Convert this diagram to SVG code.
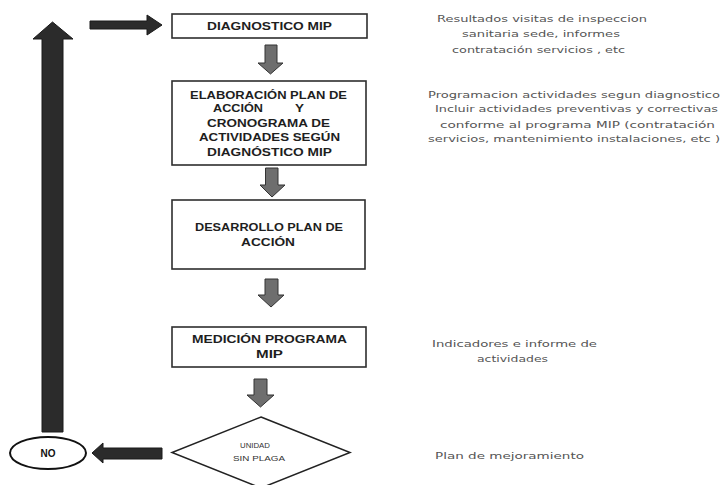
<svg xmlns="http://www.w3.org/2000/svg" width="723" height="485" viewBox="0 0 723 485">
<style>
.box{fill:#fff;stroke:#2e2e2e;stroke-width:1.6}
.bt{font-family:"Liberation Sans",Arial,sans-serif;font-weight:bold;font-size:10px;fill:#1e1e1e;text-anchor:middle}
.st{text-anchor:start}
.nt{font-family:"DejaVu Sans","Liberation Sans",sans-serif;font-size:9.5px;fill:#555;text-anchor:middle}
.dt{font-family:"Liberation Sans",Arial,sans-serif;font-size:7px;fill:#333;text-anchor:middle}
.ga{fill:#6e6e6e;stroke:#333;stroke-width:1}
.da{fill:#2b2b2b;stroke:#1a1a1a;stroke-width:1}
</style>
<rect width="723" height="485" fill="#fff"/>
<g id="connectors">
<path class="da" d="M42,432 V39 H33 L52.5,22 L73,39 H63 V432 Z"/>
<path class="da" d="M90,21 H147 V15 L162,25 L147,35 V29 H90 Z"/>
<path class="ga" d="M265,45 H277 V63 H283 L270.5,74 L258,63 H265 Z"/>
<path class="ga" d="M265.5,168 H278 V185 H285 L272,197 L260,185 H265.5 Z"/>
<path class="ga" d="M265,279 H278 V295 H284 L271,307 L258,295 H265 Z"/>
<path class="ga" d="M254,379 H267 V395 H274 L260.5,407 L247,395 H254 Z"/>
<path class="da" d="M162,448 H103 V443 L92,453 L103,463 V459 H162 Z"/>
</g>
<g id="n1">
<rect class="box" x="172" y="14" width="195" height="24"/>
<text class="bt" x="269.5" y="29.5" textLength="125" lengthAdjust="spacingAndGlyphs">DIAGNOSTICO MIP</text>
</g>
<g id="n2">
<rect class="box" x="172" y="81" width="194" height="84"/>
<text class="bt" x="268.5" y="98.5" textLength="157" lengthAdjust="spacingAndGlyphs">ELABORACIÓN PLAN DE</text>
<text class="bt st" x="213" y="112" textLength="50" lengthAdjust="spacingAndGlyphs">ACCIÓN</text>
<text class="bt st" x="295" y="112" textLength="9" lengthAdjust="spacingAndGlyphs">Y</text>
<text class="bt" x="268.5" y="126.5" textLength="123" lengthAdjust="spacingAndGlyphs">CRONOGRAMA DE</text>
<text class="bt" x="269.5" y="140.5" textLength="141" lengthAdjust="spacingAndGlyphs">ACTIVIDADES SEGÚN</text>
<text class="bt" x="269.5" y="155.5" textLength="125" lengthAdjust="spacingAndGlyphs">DIAGNÓSTICO MIP</text>
</g>
<g id="n3">
<rect class="box" x="172" y="200" width="193" height="69"/>
<text class="bt" x="269" y="230.5" textLength="148" lengthAdjust="spacingAndGlyphs">DESARROLLO PLAN DE</text>
<text class="bt" x="268" y="245.5" textLength="54" lengthAdjust="spacingAndGlyphs">ACCIÓN</text>
</g>
<g id="n4">
<rect class="box" x="172" y="327" width="194" height="40"/>
<text class="bt" x="269.5" y="342.5" textLength="155" lengthAdjust="spacingAndGlyphs">MEDICIÓN PROGRAMA</text>
<text class="bt" x="269.5" y="357.5" textLength="27" lengthAdjust="spacingAndGlyphs">MIP</text>
</g>
<g id="n5">
<path d="M261,417 L350,452.5 L261,488 L172,452.5 Z" fill="#fff" stroke="#222" stroke-width="1.5"/>
<text class="dt" x="255" y="448" textLength="30" lengthAdjust="spacingAndGlyphs">UNIDAD</text>
<text class="dt" x="259" y="460.5" textLength="52" lengthAdjust="spacingAndGlyphs">SIN PLAGA</text>
</g>
<g id="n6">
<ellipse cx="48" cy="453" rx="38" ry="16" fill="#fff" stroke="#111" stroke-width="2"/>
<text x="48" y="457" font-family="Liberation Sans,Arial,sans-serif" font-weight="bold" font-size="10" fill="#111" text-anchor="middle">NO</text>
</g>
<g id="notes">
<text class="nt" x="542" y="21.5" textLength="210" lengthAdjust="spacingAndGlyphs">Resultados visitas de inspeccion</text>
<text class="nt" x="541" y="36.5" textLength="158" lengthAdjust="spacingAndGlyphs">sanitaria sede, informes</text>
<text class="nt" x="538.5" y="52.5" textLength="173" lengthAdjust="spacingAndGlyphs">contratación servicios , etc</text>
<text class="nt" x="574" y="97.5" textLength="292" lengthAdjust="spacingAndGlyphs">Programacion actividades segun diagnostico</text>
<text class="nt" x="576.5" y="111.5" textLength="283" lengthAdjust="spacingAndGlyphs">Incluir actividades preventivas y correctivas</text>
<text class="nt" x="577.5" y="128" textLength="275" lengthAdjust="spacingAndGlyphs">conforme al programa MIP  (contratación</text>
<text class="nt" x="574" y="141.5" textLength="292" lengthAdjust="spacingAndGlyphs">servicios, mantenimiento instalaciones, etc )</text>
<text class="nt" x="514.5" y="346.5" textLength="165" lengthAdjust="spacingAndGlyphs">Indicadores e informe de</text>
<text class="nt" x="512.5" y="362" textLength="71" lengthAdjust="spacingAndGlyphs">actividades</text>
<text class="nt" x="509.5" y="458.5" textLength="149" lengthAdjust="spacingAndGlyphs">Plan de mejoramiento</text>
</g>
</svg>
